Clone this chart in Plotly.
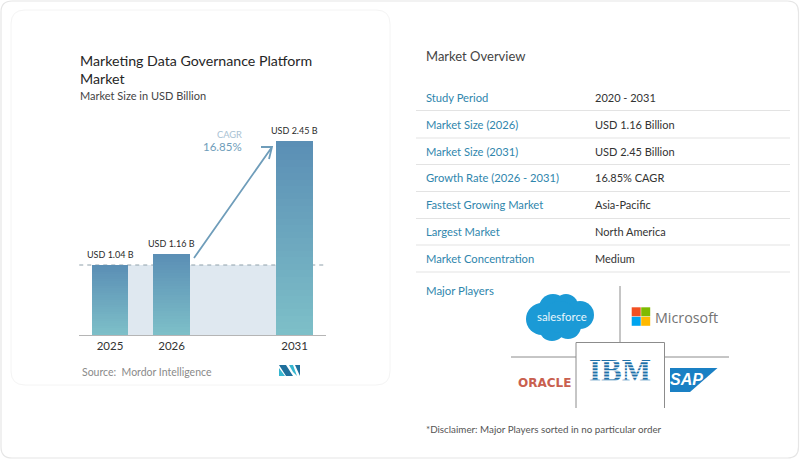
import plotly.graph_objects as go

# Chart values
years = ["2025", "2026", "2031"]
year_pos = [0, 1, 3]  # 2027-2030 are skipped on the axis, 2 slots of gap
# bar heights as drawn in the picture (the drawing is not to scale with the labels)
bar_heights = [0.884, 1.023, 2.45]
bar_labels = ["USD 1.04 B", "USD 1.16 B", "USD 2.45 B"]

overview_labels = ["Study Period", "Market Size (2026)", "Market Size (2031)",
                   "Growth Rate (2026 - 2031)", "Fastest Growing Market",
                   "Largest Market", "Market Concentration"]
overview_values = ["2020 - 2031", "USD 1.16 Billion", "USD 2.45 Billion",
                   "16.85% CAGR", "Asia-Pacific", "North America", "Medium"]

FONT = "Lato"
BLUE_TEXT = "#2f86ad"
TOP = (91, 143, 181)
BOTTOM = (125, 191, 200)
SLICES = 30

fig = go.Figure()


def rounded(x0, y0, x1, y1, r):
    return (f"M{x0+r},{y0} L{x1-r},{y0} Q{x1},{y0} {x1},{y0+r} L{x1},{y1-r} Q{x1},{y1} {x1-r},{y1} "
            f"L{x0+r},{y1} Q{x0},{y1} {x0},{y1-r} L{x0},{y0+r} Q{x0},{y0} {x0+r},{y0} Z")


def page_shape(**kw):
    # pixel coordinates of the page, via the hidden xy axes
    kw.setdefault("line", dict(width=0))
    kw.setdefault("layer", "below")
    fig.add_shape(xref="x", yref="y", **kw)


def page_line(x0, y0, x1, y1, color="#8c8c8c", width=1):
    page_shape(type="line", x0=x0, y0=y0, x1=x1, y1=y1, line=dict(color=color, width=width))


def page_text(x, y, text, size, color, anchor="left", family=FONT):
    fig.add_annotation(xref="x", yref="y", x=x, y=y, text=text, showarrow=False,
                       xanchor=anchor, yanchor="middle", align=anchor,
                       xshift=0, borderpad=0, borderwidth=0,
                       font=dict(family=family, size=size, color=color))


def poly(points, color):
    path = "M" + " L".join(f"{x},{y}" for x, y in points) + " Z"
    page_shape(type="path", path=path, fillcolor=color)


# page axes trace so that the xy subplot exists, drawn first
fig.add_trace(go.Scatter(x=[620], y=[373], mode="text", text=["IBM"], xaxis="x", yaxis="y",
                         textposition="middle center", showlegend=False, hoverinfo="skip",
                         textfont=dict(family="Liberation Serif", size=31, color="#1f70a8",
                                       weight="bold")))

# cards
page_shape(type="path", path=rounded(1, 1, 798.5, 458, 11), fillcolor="white",
           line=dict(color="#e6e6e6", width=1.2))
page_shape(type="path", path=rounded(11, 10, 390, 385, 14), fillcolor="white",
           line=dict(color="#f4f4f4", width=1))

# gradient bars: each bar is a stack of thin flat slices
for i in range(SLICES):
    t = i / (SLICES - 1)
    c = [round(BOTTOM[k] + (TOP[k] - BOTTOM[k]) * t) for k in range(3)]
    fig.add_trace(go.Bar(x=year_pos, y=[h / SLICES for h in bar_heights], width=0.6,
                         marker=dict(color=f"rgb({c[0]},{c[1]},{c[2]})", line=dict(width=0)),
                         xaxis="x2", yaxis="y2", showlegend=False, hoverinfo="skip"))

# band and dashed reference at the 2025 level
fig.add_shape(type="rect", xref="x2", yref="y2", x0=year_pos[0], x1=year_pos[2], y0=0, y1=bar_heights[0],
              fillcolor="#dfe8f0", line=dict(width=0), layer="below")
fig.add_shape(type="line", xref="x2", yref="y2", x0=-0.5, x1=3.52, y0=bar_heights[0], y1=bar_heights[0],
              line=dict(color="#8fa0aa", width=1, dash="4px,4px"), layer="below")

for pos, h, lab in zip(year_pos, bar_heights, bar_labels):
    fig.add_annotation(xref="x2", yref="y2", x=pos, y=h, text=lab, showarrow=False, yanchor="bottom",
                       yshift=3, font=dict(family=FONT, size=9, color="#2b2b2b"))

# titles
page_text(80, 60.5, "Marketing Data Governance Platform", 14.2, "#262626")
page_text(80, 78.5, "Market", 14.2, "#262626")
page_text(80, 95.5, "Market Size in USD Billion", 11, "#444444")

# CAGR arrow
page_shape(type="path", path="M194,258 L272,147 M261,147 L272,147 L269,159",
           line=dict(color="#6f9dba", width=1.8), layer="above")
page_text(242, 134, "CAGR", 9.3, "#a9c2d3", anchor="right")
page_text(242, 146.5, "16.85%", 11.5, "#6f9dba", anchor="right")

# source + logo
page_text(81.5, 372, "Source:  Mordor Intelligence", 10.5, "#8a8a8a")
poly([(279, 365), (286, 365), (293, 376), (286, 376)], "#1f6f9c")
poly([(279, 368), (285, 376), (279, 376)], "#35b6d0")
poly([(289, 365), (293, 365), (297, 376), (293, 372)], "#35b6d0")
poly([(295, 365), (300, 365), (300, 376)], "#1f6f9c")

# overview table
page_text(425.5, 55.5, "Market Overview", 13, "#444444")
row_y = [97, 124, 151, 177, 204, 231, 258]
sep_y = [110.5, 138, 164.5, 191.5, 218.5, 245, 272]
for y, s, lab, val in zip(row_y, sep_y, overview_labels, overview_values):
    page_text(425.5, y, lab, 11.2, BLUE_TEXT)
    page_text(595, y, val, 11, "#333333")
    page_line(416, s, 790, s, color="#e3e3e3", width=1)

page_text(425.5, 290, "Major Players", 11.4, BLUE_TEXT)
page_text(425.5, 429, "*Disclaimer: Major Players sorted in no particular order", 9.8, "#555555")

# logo grid
page_line(620, 286, 620, 342.5)
page_line(511, 357, 576, 357)
page_line(664.5, 357, 729, 357)
page_line(576, 342.5, 664.5, 342.5)
page_line(576, 342.5, 576, 408)
page_line(664.5, 342.5, 664.5, 408)

# salesforce
for cx, cy, r in [(542, 319, 16), (553, 308, 14), (566, 306, 12), (580, 315, 14), (568, 326, 13),
                  (552, 328, 13), (560, 317, 16)]:
    page_shape(type="circle", x0=cx - r, x1=cx + r, y0=cy - r, y1=cy + r, fillcolor="#1b9ad6")
page_text(561.5, 316, "salesforce", 11.4, "#e8f6fc", anchor="center")

# microsoft
for x, y, c in [(631.7, 307.3, "#f25022"), (641.2, 307.3, "#7fba00"),
                (631.7, 316.8, "#00a4ef"), (641.2, 316.8, "#ffb900")]:
    page_shape(type="rect", x0=x, x1=x + 9, y0=y, y1=y + 9, fillcolor=c)
page_text(655, 317, "Microsoft", 14.3, "#737373", family="Open Sans")

# oracle
page_text(544, 383, "<b>ORACLE</b>", 12, "#c9604f", anchor="center", family="DejaVu Sans")

# sap
poly([(670, 368), (717.5, 368), (690, 392), (670, 392)], "#1a80c4")
page_text(686, 379.5, "<b><i>SAP</i></b>", 16, "white", anchor="center", family="Liberation Sans")

# ibm stripes over the text trace
for k in range(1, 8):
    y = 358.5 + k * 3.1
    page_shape(type="line", x0=586, x1=655, y0=y, y1=y, line=dict(color="white", width=1.1), layer="above")

fig.update_layout(
    width=800, height=459, margin=dict(l=0, r=0, t=0, b=0),
    paper_bgcolor="white", plot_bgcolor="rgba(0,0,0,0)", barmode="stack", bargap=0,
    showlegend=False, font=dict(family=FONT),
    xaxis=dict(domain=[0, 1], range=[0, 800], visible=False, fixedrange=True),
    yaxis=dict(domain=[0, 1], range=[459, 0], visible=False, fixedrange=True),
    xaxis2=dict(domain=[79 / 800, 326 / 800], range=[-0.504, 3.51], anchor="y2", tickmode="array",
                tickvals=year_pos, ticktext=years, showgrid=False, zeroline=False, showline=True,
                linecolor="#b5b5b5", linewidth=1, ticks="", ticklen=0,
                tickfont=dict(family=FONT, size=11.5, color="#333333")),
    yaxis2=dict(domain=[(459 - 335) / 459, (459 - 141) / 459], range=[0, 2.45], anchor="x2",
                visible=False),
)

fig.write_html("out.html", config=dict(displayModeBar=False),
               post_script="document.body.style.margin='0';")
